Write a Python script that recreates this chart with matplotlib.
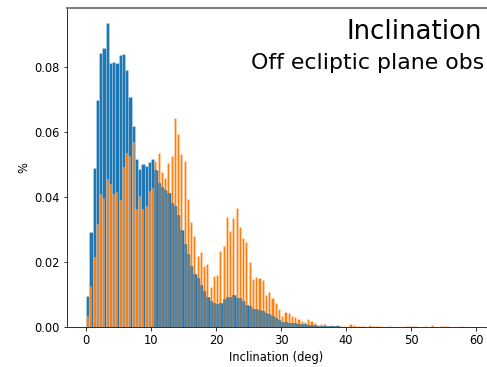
import numpy as np
import matplotlib
matplotlib.use("Agg")
import matplotlib.pyplot as plt

bin_width = 0.5
# density values per 0.5-deg bin starting at 0 deg
blue_vals = [0.0095, 0.0291, 0.0488, 0.0700, 0.0842, 0.0860, 0.0935, 0.0814, 0.0815, 0.0813,
             0.0836, 0.0840, 0.0790, 0.0707, 0.0618, 0.0518, 0.0486, 0.0502, 0.0496, 0.0508,
             0.0516, 0.0483, 0.0444, 0.0430, 0.0422, 0.0413, 0.0383, 0.0372, 0.0345, 0.0298,
             0.0257, 0.0225, 0.0189, 0.0163, 0.0150, 0.0129, 0.0112, 0.0093, 0.0079, 0.0075,
             0.0070, 0.0073, 0.0085, 0.0091, 0.0091, 0.0098, 0.0088, 0.0088, 0.0079, 0.0068,
             0.0065, 0.0056, 0.0055, 0.0053, 0.0049, 0.0042, 0.0041, 0.0034, 0.0027, 0.0022,
             0.0016, 0.0015, 0.0013, 0.0012, 0.0011, 0.0010, 0.0010, 0.0008, 0.0007, 0.0006,
             0.0005, 0.0004, 0.0004, 0.0003, 0.0003, 0.0002, 0.0002, 0.0002, 0.0001, 0.0001]
orange_vals = [0.0035, 0.0126, 0.0215, 0.0317, 0.0408, 0.0397, 0.0457, 0.0441, 0.0410, 0.0415,
               0.0390, 0.0493, 0.0536, 0.0526, 0.0568, 0.0363, 0.0403, 0.0363, 0.0372, 0.0420,
               0.0427, 0.0511, 0.0536, 0.0478, 0.0459, 0.0504, 0.0527, 0.0642, 0.0594, 0.0532,
               0.0511, 0.0393, 0.0322, 0.0281, 0.0219, 0.0230, 0.0188, 0.0194, 0.0122, 0.0157,
               0.0161, 0.0235, 0.0249, 0.0338, 0.0297, 0.0335, 0.0366, 0.0309, 0.0273, 0.0262,
               0.0200, 0.0147, 0.0153, 0.0150, 0.0145, 0.0098, 0.0109, 0.0090, 0.0073, 0.0056,
               0.0035, 0.0046, 0.0042, 0.0034, 0.0030, 0.0024, 0.0018, 0.0015, 0.0024, 0.0018,
               0.0013, 0.0007, 0.0010, 0.0010, 0.0004, 0.0005, 0.0003, 0.0006, 0.0003, 0.0002,
               0.0000, 0.0010, 0.0007, 0.0003, 0.0003, 0.0003, 0.0000, 0.0005, 0.0003, 0.0003,
               0.0003, 0.0000, 0.0000, 0.0003, 0.0000, 0.0000, 0.0000, 0.0000, 0.0003, 0.0003,
               0.0003, 0.0003, 0.0000, 0.0000, 0.0003, 0.0000, 0.0006, 0.0000, 0.0000, 0.0003,
               0.0003, 0.0003, 0.0000, 0.0000, 0.0000, 0.0003, 0.0000]
x_ticks = [0, 10, 20, 30, 40, 50, 60]
y_ticks = [0.00, 0.02, 0.04, 0.06, 0.08]

blue = np.array(blue_vals)
orange = np.array(orange_vals)
blue_left = np.arange(len(blue)) * bin_width
orange_left = np.arange(len(orange)) * bin_width

fig = plt.figure(figsize=(487 / 72, 367 / 72), dpi=72)
ax = fig.add_axes([67 / 487, 40 / 367, 419 / 487, 319 / 367])

ax.bar(blue_left, blue, width=bin_width, align='edge', color='#1f77b4',
       edgecolor=(1, 1, 1, 0.35), linewidth=0.6, zorder=2)
ax.bar(orange_left, orange, width=bin_width * 0.65, align='edge', color='#ff7f0e',
       edgecolor=(1, 1, 1, 0.35), linewidth=0.6, zorder=3)
# translucent blue over the orange where the orange bar is taller
n = min(len(blue), len(orange))
over = orange[:n] >= blue[:n]
ax.bar(blue_left[:n][over], blue[:n][over], width=bin_width, align='edge',
       color='#1f77b4', alpha=0.6, linewidth=0, zorder=4)

ax.set_xlim(-2.93, 61.5)
ax.set_ylim(0, 0.0982)
ax.set_xticks(x_ticks)
ax.set_yticks(y_ticks)
ax.set_yticklabels([f"{v:.2f}" for v in y_ticks])
ax.tick_params(labelsize=11.5)
ax.set_xlabel("Inclination (deg)", fontsize=11.5)
ax.set_ylabel("%", fontsize=11.5)
ax.spines['right'].set_visible(False)
ax.spines['top'].set_color('#808080')
ax.spines['top'].set_linewidth(2)

ax.text(0.99, 0.965, "Inclination", transform=ax.transAxes, ha='right', va='top', fontsize=26)
ax.text(0.995, 0.86, "Off ecliptic plane obs", transform=ax.transAxes, ha='right', va='top', fontsize=22)

fig.savefig("out.png", dpi=72)
